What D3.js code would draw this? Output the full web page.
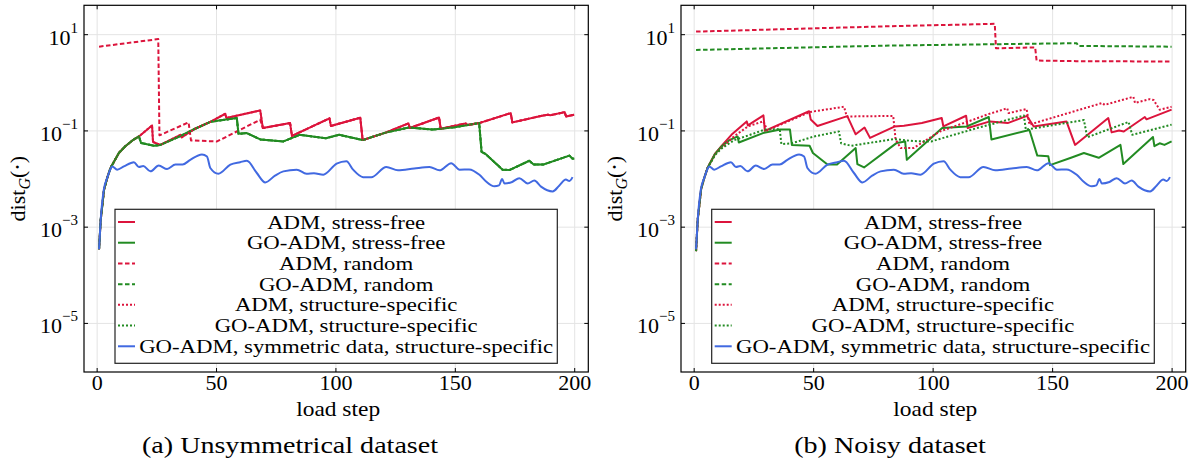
<!DOCTYPE html>
<html><head><meta charset="utf-8">
<script src="https://cdn.jsdelivr.net/npm/d3@7"></script>
<style>body{margin:0;background:#fff}</style>
</head><body>
<svg id="c" width="1195" height="465"></svg>
<script>
// ---------- data ----------
const xTicks = [0, 50, 100, 150, 200];
const yTicks = [1e1, 1e-1, 1e-3, 1e-5];
const yTickExp = ["1", "\u22121", "\u22123", "\u22125"];
const seriesNames = ["ADM, stress-free", "GO-ADM, stress-free", "ADM, random", "GO-ADM, random",
  "ADM, structure-specific", "GO-ADM, structure-specific", "GO-ADM, symmetric data, structure-specific"];
const captions = ["(a) Unsymmetrical dataset", "(b) Noisy dataset"];
const xLabel = "load step";

// (a) Unsymmetrical dataset  [load step, dist]
const leftAdmSF = [[1,3.4e-4],[1.7,1.4e-3],[3.1,5.9e-3],[4.4,0.0102],[5.8,0.0166],[9.3,0.034],[12,0.047],[15,0.062],[17.7,0.075],
  [23.2,0.127],[23.6,0.0575],[26.7,0.050],[35.1,0.081],[35.6,0.072],[41,0.107],[47.6,0.151],[53.9,0.222],[54.3,0.181],
  [68.5,0.260],[69.6,0.112],[81,0.142],[81.8,0.077],[97.5,0.178],[98.1,0.124],[110.4,0.184],[111.4,0.063],[121,0.09],
  [130.6,0.140],[131.1,0.112],[143.4,0.185],[144.1,0.108],[154.6,0.140],[155.2,0.129],[160.2,0.142],[173.4,0.229],
  [174.1,0.147],[186.5,0.202],[189,0.212],[190,0.207],[196,0.24],[196.6,0.195],[200,0.212]];
const leftGoSF = [[1,3.4e-4],[1.7,1.4e-3],[3.1,5.9e-3],[4.4,0.0102],[5.8,0.0166],[9.3,0.034],[12,0.047],[15,0.062],[17.7,0.075],
  [18.6,0.055],[24,0.048],[26.7,0.050],[35,0.076],[41,0.107],[47.6,0.151],[58.7,0.181],[59.4,0.085],[62.9,0.088],
  [68.5,0.065],[78.2,0.059],[85,0.081],[92,0.073],[96,0.069],[101.6,0.081],[111.4,0.063],[121,0.09],[130.8,0.115],
  [140.8,0.104],[150,0.117],[160.2,0.142],[161.2,0.036],[163,0.032],[170,0.0153],[173,0.0151],[181.2,0.0234],
  [183,0.0195],[187,0.0195],[198,0.030],[199.3,0.0257],[200,0.026]];
const leftAdmRandom = [[1,5.5],[25.8,7.9],[26.3,0.079],[38.5,0.147],[39.5,0.062],[50.4,0.059],[68.5,0.167],[69.6,0.112]]
  .concat(leftAdmSF.filter(d => d[0] > 69.6));
const leftGoRandom = leftGoSF;
const leftAdmSS = leftAdmSF;
const leftGoSS = leftGoSF;

// (b) Noisy dataset
const rightAdmSF = [[1,3.1e-4],[1.7,1.4e-3],[3.1,5.9e-3],[4.4,0.0102],[5.8,0.0166],[9,0.033],[11.6,0.047],[15.8,0.081],
  [22.2,0.154],[22.7,0.127],[29.2,0.205],[29.8,0.098],[48.3,0.25],[49,0.168],[51.8,0.124],[64.3,0.198],[67.8,0.083],
  [71.5,0.115],[73.8,0.070],[84,0.12],[88,0.125],[95.5,0.142],[103.8,0.181],[104.5,0.121],[114,0.202],[114.7,0.112],
  [124,0.154],[131.4,0.142],[139.5,0.20],[142.3,0.121],[156,0.154],[159.6,0.050],[173.5,0.181],[174.9,0.091],
  [178,0.1],[180,0.095],[188.8,0.19],[189.5,0.17],[200,0.27]];
const rightGoSF = [[1,3.1e-4],[1.7,1.4e-3],[3.1,5.9e-3],[4.4,0.0102],[5.8,0.0166],[9,0.033],[11.6,0.046],[15,0.063],
  [18.4,0.075],[18.9,0.056],[29,0.088],[36.2,0.104],[40.3,0.104],[41.1,0.050],[48.5,0.048],[49.9,0.034],[56,0.0195],
  [60,0.0195],[67.8,0.043],[68.5,0.020],[71.3,0.017],[85,0.055],[88.5,0.059],[89.2,0.0245],[104,0.112],[114.3,0.121],
  [123.5,0.19],[124.6,0.065],[140.5,0.102],[143.8,0.030],[148.4,0.029],[149.1,0.019],[157.9,0.027],[163.3,0.034],
  [169.5,0.027],[178.6,0.050],[179.8,0.020],[192.2,0.073],[192.8,0.047],[195,0.054],[197,0.050],[200,0.059]];
const rightAdmRandom = [[1,11.3],[86,14.8],[126,16.4],[126.5,5.1],[142.9,5.3],[143.5,2.83],[160,2.75],[200,2.7]];
const rightGoRandom = [[1,4.7],[82,5.8],[160.3,6.5],[161,5.7],[200,5.5]];
const rightAdmSS = [[1,3.1e-4],[1.7,1.4e-3],[3.1,5.9e-3],[4.4,0.0102],[5.8,0.0166],[9,0.032],[11.6,0.043],[17,0.076],
  [22.7,0.121],[29.2,0.155],[30.8,0.1],[40,0.158],[48.5,0.24],[50.2,0.248],[62.9,0.31],[64.1,0.195],[83.5,0.20],
  [84.5,0.065],[86.6,0.043],[92,0.043],[103,0.095],[117,0.167],[122.6,0.212],[131.2,0.288],[131.8,0.229],[139.3,0.279],
  [140.5,0.132],[171,0.372],[172,0.339],[184,0.50],[184.7,0.372],[190.8,0.447],[192.5,0.427],[195,0.269],[200,0.309]];
const rightGoSS = [[1,3.1e-4],[1.7,1.4e-3],[3.1,5.9e-3],[4.4,0.0102],[5.8,0.0166],[9,0.031],[11.6,0.042],[17,0.063],
  [22.7,0.078],[29.7,0.104],[36,0.107],[36.7,0.052],[41,0.054],[50.4,0.075],[60.8,0.095],[61.7,0.054],[65.9,0.048],
  [83.8,0.066],[92,0.06],[99.4,0.059],[118,0.11],[138.2,0.204],[139,0.104],[163.3,0.164],[164.7,0.072],[182,0.150],
  [183.5,0.081],[200,0.132]];

// symmetric data (same in both panels)
const blueSym = [[1,3.4e-4],[1.7,1.4e-3],[3,5.9e-3],[4.4,0.0102],[5.8,0.0158],[6.5,0.0179],[8.6,0.0153],[11.4,0.0179],
  [15.6,0.0219],[17.7,0.0174],[19.5,0.0182],[22.5,0.0141],[26,0.0186],[29.5,0.0158],[33,0.0195],[36,0.0195],[39.2,0.0245],
  [44.1,0.0316],[46.2,0.0288],[47.6,0.0166],[51,0.0126],[56,0.0195],[60.1,0.0219],[62.9,0.0234],[67,0.0132],[70.6,0.0083],
  [74.7,0.0115],[78.2,0.0141],[83.8,0.0153],[87.9,0.0126],[91,0.0129],[94.9,0.012],[100.5,0.0204],[104.6,0.0229],
  [107.4,0.0153],[111.6,0.0107],[115,0.0106],[121.3,0.0174],[126.2,0.0148],[133,0.0162],[139.4,0.0174],[143.6,0.0148],
  [148.5,0.0209],[152,0.0153],[156,0.0155],[160.3,0.012],[163.1,0.0087],[166.6,0.0069],[168.5,0.0072],[169.8,0.0098],
  [170.8,0.0079],[174,0.0085],[177,0.0102],[180.5,0.0079],[183.3,0.0091],[186.1,0.0068],[191,0.0054],[193.7,0.0071],
  [196.5,0.0095],[198,0.0089],[199.3,0.0107]];

// ---------- layout / style ----------
const FONT = "Liberation Serif, DejaVu Serif, Noto Serif, Times New Roman, serif";
const Y0 = 5.3, Y1 = 372;
const xDomain = [-5.3, 205.9];
const yDomain = [Math.pow(10, -6.02), Math.pow(10, 1.6)];
const styles = [
  {c:"#dc143c", d:null}, {c:"#228b22", d:null},
  {c:"#dc143c", d:"4.5,2.5"}, {c:"#228b22", d:"4.5,2.5"},
  {c:"#dc143c", d:"2,2"}, {c:"#228b22", d:"2,2"},
  {c:"#4169e1", d:null}];
const panels = [
  {x0:84, x1:588.3, lx0:115, lx1:557.3, capX:290,
   series:[leftAdmSF,leftGoSF,leftAdmRandom,leftGoRandom,leftAdmSS,leftGoSS,blueSym]},
  {x0:681, x1:1185.7, lx0:711.7, lx1:1154.3, capX:890,
   series:[rightAdmSF,rightGoSF,rightAdmRandom,rightGoRandom,rightAdmSS,rightGoSS,blueSym]}
];
const svg = d3.select("#c");
svg.style("font-family", FONT);

function natural(sel){ return sel.node().getComputedTextLength(); }
function setLen(sel, w){ sel.attr("textLength", w).attr("lengthAdjust","spacingAndGlyphs"); }

panels.forEach((p, pi) => {
  const g = svg.append("g");
  const x = d3.scaleLinear().domain(xDomain).range([p.x0, p.x1]);
  const y = d3.scaleLog().domain(yDomain).range([Y1, Y0]);

  // grid
  g.append("g").attr("transform", `translate(0,${Y1})`)
    .call(d3.axisBottom(x).tickValues(xTicks).tickSize(-(Y1-Y0)).tickFormat(""))
    .call(s => { s.select(".domain").remove(); s.selectAll("line").attr("stroke","#e4e4e4").attr("stroke-width",1); });
  g.append("g").attr("transform", `translate(${p.x0},0)`)
    .call(d3.axisLeft(y).tickValues(yTicks).tickSize(-(p.x1-p.x0)).tickFormat(""))
    .call(s => { s.select(".domain").remove(); s.selectAll("line").attr("stroke","#e4e4e4").attr("stroke-width",1); });

  // series
  p.series.forEach((s, i) => {
    const line = d3.line().x(d => x(d[0])).y(d => y(d[1]))
      .curve(i === 6 ? d3.curveMonotoneX : d3.curveLinear);
    g.append("path").datum(s).attr("d", line)
      .attr("fill","none").attr("stroke", styles[i].c).attr("stroke-width", 2)
      .attr("stroke-linejoin","round")
      .attr("stroke-dasharray", styles[i].d);
  });

  // frame
  g.append("rect").attr("x", p.x0).attr("y", Y0).attr("width", p.x1-p.x0).attr("height", Y1-Y0)
    .attr("fill","none").attr("stroke","#000").attr("stroke-width",1.2);

  // axes with inward ticks
  const bottom = g.append("g").attr("transform", `translate(0,${Y1})`)
    .call(d3.axisBottom(x).tickValues(xTicks).tickSizeInner(-4).tickSizeOuter(0).tickPadding(2).tickFormat(d3.format("d")));
  bottom.attr("font-size", 22).attr("font-family", FONT);
  bottom.select(".domain").remove();
  const top = g.append("g").attr("transform", `translate(0,${Y0})`)
    .call(d3.axisTop(x).tickValues(xTicks).tickSizeInner(-4).tickSizeOuter(0).tickFormat(""));
  top.select(".domain").remove();
  const right = g.append("g").attr("transform", `translate(${p.x1},0)`)
    .call(d3.axisRight(y).tickValues(yTicks).tickSizeInner(-4).tickSizeOuter(0).tickFormat(""));
  right.select(".domain").remove();
  const left = g.append("g").attr("transform", `translate(${p.x0},0)`)
    .call(d3.axisLeft(y).tickValues(yTicks).tickSizeInner(-4).tickSizeOuter(0).tickPadding(6).tickFormat(() => ""));
  left.select(".domain").remove();
  left.attr("font-size", 22).attr("font-family", FONT);
  left.selectAll(".tick text").each(function(d, i) {
    const t = d3.select(this).attr("dy", "0.45em");
    t.append("tspan").text("10");
    t.append("tspan").attr("dy", -12).attr("font-size", 15).text(yTickExp[i]);
  });

  // axis labels
  const cx = (p.x0 + p.x1) / 2;
  const xl = g.append("text").attr("x", cx + 2).attr("y", 416).attr("text-anchor","middle")
    .attr("font-family", FONT).attr("font-size", 22).text(xLabel);
  setLen(xl, 84);
  const yl = g.append("text").attr("transform", `translate(${p.x0 - 59},${(Y0+Y1)/2}) rotate(-90)`)
    .attr("text-anchor","middle").attr("font-family", FONT).attr("font-size", 22);
  yl.append("tspan").text("dist");
  yl.append("tspan").attr("font-style","italic").attr("font-size",16).attr("dy",5).text("G");
  yl.append("tspan").attr("dy",-5).text("(\u22C5)");

  // legend
  const LT = 209.3, LB = 363.3;
  g.append("rect").attr("x", p.lx0).attr("y", LT).attr("width", p.lx1 - p.lx0).attr("height", LB - LT)
    .attr("fill","#fff").attr("stroke","#222").attr("stroke-width",1.2);
  const rowH = (LB - LT - 9) / 7;
  const texts = [];
  seriesNames.forEach((name, i) => {
    const cy = LT + 12.7 + i * rowH;
    g.append("line").attr("x1", p.lx0 + 3).attr("x2", p.lx0 + 20).attr("y1", cy).attr("y2", cy)
      .attr("stroke", styles[i].c).attr("stroke-width", 2).attr("stroke-dasharray", styles[i].d);
    texts.push(g.append("text").attr("x", (p.lx0 + 20 + p.lx1) / 2).attr("y", cy + 6.5).attr("text-anchor","middle")
      .attr("font-family", FONT).attr("font-size", 18.5).text(name));
  });
  const kL = 414 / natural(texts[6]);
  texts.forEach(t => setLen(t, natural(t) * kL));

  // caption
  const cap = g.append("text").attr("x", p.capX).attr("y", 453).attr("text-anchor","middle")
    .attr("font-family", FONT).attr("font-size", 23).text(captions[pi]);
  p.cap = cap;
});
// captions share one width factor, fitted to caption (a)
const kC = 296 / natural(panels[0].cap);
panels.forEach(p => setLen(p.cap, natural(p.cap) * kC));
</script>
</body></html>
